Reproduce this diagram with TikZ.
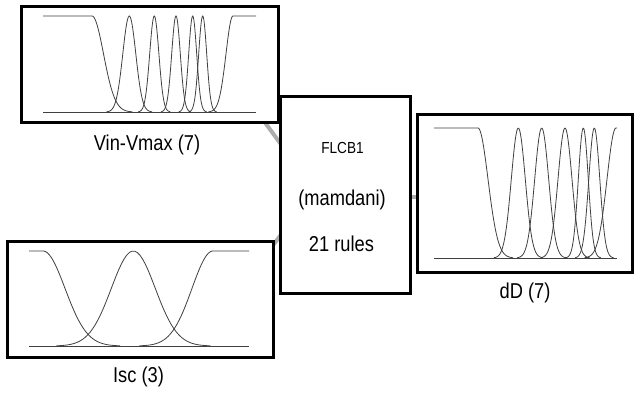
\documentclass[tikz,border=0pt]{standalone}
\usepackage{fontspec}
\setmainfont{Liberation Sans}
\newfontfamily\labfont[FakeStretch=0.85]{Liberation Sans}
\usetikzlibrary{calc}
\pgfdeclarelayer{bg}
\pgfsetlayers{bg,main}
\newcommand\gpk[2]{\draw[mf] plot[domain={#1-3.5*#2}:{#1+3.5*#2}, samples=60] (\x, {exp(-0.5*((\x-#1)/#2)*((\x-#1)/#2))});}
\newcommand\lsh[3]{\draw[mf] (#3,1) -- plot[domain={#1}:{#1+3.5*#2}, samples=60] (\x, {exp(-0.5*((\x-#1)/#2)*((\x-#1)/#2))});}
\newcommand\rsh[3]{\draw[mf] plot[domain={#1-3.5*#2}:{#1}, samples=60] (\x, {exp(-0.5*((\x-#1)/#2)*((\x-#1)/#2))}) -- (#3,1);}
\begin{document}
\begin{tikzpicture}[x=1pt,y=-1pt,
  box/.style={draw=black, line width=3pt, fill=white, rectangle, inner sep=0pt},
  conn/.style={draw=black!32, line width=4pt},
  mf/.style={draw=black!75, line width=0.8pt},
  lab/.style={inner sep=0pt, anchor=base, font=\labfont\fontsize{21.5}{24}\selectfont},
  small/.style={inner sep=0pt, anchor=base, font=\labfont\fontsize{16}{18}\selectfont}]
\path[use as bounding box] (0,0) rectangle (634,393);

% boxes
\node[box, minimum width=257pt, minimum height=116pt] (vin) at (149.5,65) {};
\node[box, minimum width=266pt, minimum height=116pt] (isc) at (140,299) {};
\node[box, minimum width=130pt, minimum height=196pt] (fis) at (345,195) {};
\node[box, minimum width=215pt, minimum height=157pt] (dd) at (524.5,193.5) {};

% connectors
\begin{pgfonlayer}{bg}
\draw[conn] ([xshift=-16pt,yshift=4pt]vin.south east) -- ([xshift=3pt,yshift=50pt]fis.west);
\draw[conn] ([xshift=-7pt,yshift=-13pt]isc.north east) -- ([xshift=3pt,yshift=-39pt]fis.west);
\draw[conn] ([yshift=-2pt]fis.east) -- ([yshift=-2pt]fis.east -| dd.west);
\end{pgfonlayer}

% labels
\node[lab] (vinlab) at (147,150.7) {Vin-Vmax (7)};
\node[lab] (isclab) at (138.5,382.7) {Isc (3)};
\node[lab] (ddlab) at (525,298.3) {dD (7)};
\node[small] (fisname) at (342.5,153.3) {FLCB1};
\node[lab] (fistype) at (342,205.4) {(mamdani)};
\node[lab] (fisrules) at (341.5,251.7) {21 rules};

% Vin-Vmax membership functions
\begin{scope}[shift={(0,112)}, y=96pt]
\draw[mf] (43,0) -- (256,0);
\lsh{92}{11.5}{43}
\gpk{129.3}{6.5}
\gpk{154.3}{4.6}
\gpk{176}{4.3}
\gpk{192.7}{4}
\gpk{202.7}{4}
\rsh{233}{7}{256}
\end{scope}

% dD membership functions
\begin{scope}[shift={(0,258)}, y=130pt]
\draw[mf] (434,0) -- (617,0);
\lsh{478}{10}{434}
\gpk{518.3}{7}
\gpk{541.7}{7}
\gpk{565}{7}
\gpk{583.3}{5}
\gpk{594.3}{5.5}
\rsh{616}{9}{617}
\end{scope}

% Isc membership functions
\begin{scope}[shift={(0,346)}, y=95pt]
\draw[mf] (29,0) -- (249,0);
\lsh{43}{22}{29}
\gpk{133.3}{22}
\rsh{213}{21}{249}
\end{scope}
\end{tikzpicture}
\end{document}
